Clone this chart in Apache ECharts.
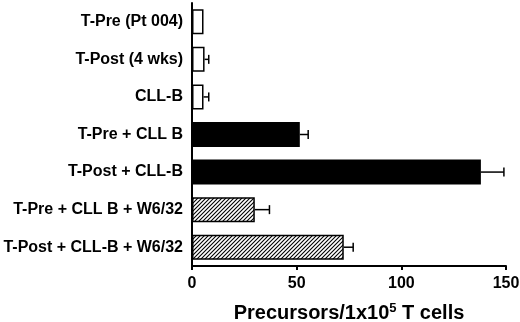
<!DOCTYPE html>
<html>
<head>
<meta charset="utf-8">
<script src="https://cdn.jsdelivr.net/npm/echarts@6/dist/echarts.min.js"></script>
<style>
html, body { margin: 0; padding: 0; background: #fff; }
#chart { width: 520px; height: 322px; }
</style>
</head>
<body>
<div id="chart"></div>
<script>
// data
var categories = [
	"T-Pre (Pt 004)",
	"T-Post (4 wks)",
	"CLL-B",
	"T-Pre + CLL B",
	"T-Post + CLL-B",
	"T-Pre + CLL B + W6/32",
	"T-Post + CLL-B + W6/32"
]
var values = [5.5, 6, 5.5, 51.5, 138, 30, 72.5]
var errors = [0, 2, 2.5, 4, 11, 7, 4.5]
var fills = ["open", "open", "open", "solid", "solid", "hatch", "hatch"]
var xTicks = [0, 50, 100, 150]

var FONT = "Liberation Sans, Arial, sans-serif"

// diagonal hatch tile
function hatchPattern(){
	var c = document.createElement("canvas")
	c.width = 4
	c.height = 4
	var ctx = c.getContext("2d")
	ctx.fillStyle = "#fff"
	ctx.fillRect(0, 0, 4, 4)
	ctx.strokeStyle = "#000"
	ctx.lineWidth = 1.1
	ctx.beginPath()
	ctx.moveTo(-1, 5); ctx.lineTo(5, -1)
	ctx.moveTo(-1, 1); ctx.lineTo(1, -1)
	ctx.moveTo(3, 5); ctx.lineTo(5, 3)
	ctx.stroke()
	return { image: c, repeat: "repeat" }
}
var hatch = hatchPattern()

var fillColor = { open: "#fff", solid: "#000", hatch: hatch }

var barData = values.map(function(v, i){
	return {
		value: v,
		itemStyle: { color: fillColor[fills[i]], borderColor: "#000", borderWidth: 1.5 }
	}
})

var errData = values.map(function(v, i){ return [v, i, v + errors[i]] })

var myChart = echarts.init(document.getElementById("chart"))
myChart.setOption({
	animation: false,
	grid: { left: 192, right: 14, top: 3, bottom: 56, outerBoundsMode: "none", containLabel: false },
	xAxis: {
		type: "value",
		min: xTicks[0],
		max: xTicks[xTicks.length - 1],
		interval: 50,
		axisLine: { show: true, lineStyle: { color: "#000", width: 2 } },
		axisTick: { show: true, length: 4, lineStyle: { color: "#000", width: 2 } },
		splitLine: { show: false },
		axisLabel: {
			color: "#000", fontSize: 16, fontWeight: "bold",
			fontFamily: FONT, margin: 10
		},
		name: "{a|Precursors/1x10}{s|5}{a| T cells}",
		nameLocation: "middle",
		nameGap: 36,
		nameTextStyle: {
			rich: {
				a: { fontSize: 20, fontWeight: "bold", color: "#000", fontFamily: FONT, verticalAlign: "bottom" },
				s: { fontSize: 13, fontWeight: "bold", color: "#000", fontFamily: FONT, verticalAlign: "top", padding: [0, 0, 8, 0] }
			}
		}
	},
	yAxis: {
		type: "category",
		data: categories,
		inverse: true,
		axisLine: { show: true, lineStyle: { color: "#000", width: 2 } },
		axisTick: { show: false },
		axisLabel: {
			color: "#000", fontSize: 16, fontWeight: "bold",
			fontFamily: FONT, margin: 9
		}
	},
	series: [
		{
			name: "precursors",
			type: "bar",
			data: barData,
			barWidth: 25
		},
		{
			name: "error",
			type: "custom",
			data: errData,
			encode: { x: [0, 2], y: 1 },
			z: 3,
			renderItem: function(params, api){
				var start = api.coord([api.value(0), api.value(1)])
				var end = api.coord([api.value(2), api.value(1)])
				if(end[0] - start[0] < 0.5) return null
				var h = 4.5
				return {
					type: "group",
					children: [
						{ type: "line", shape: { x1: start[0], y1: start[1], x2: end[0], y2: end[1] }, style: { stroke: "#000", lineWidth: 1.5 } },
						{ type: "line", shape: { x1: end[0], y1: end[1] - h, x2: end[0], y2: end[1] + h }, style: { stroke: "#000", lineWidth: 1.5 } }
					]
				}
			}
		}
	]
})
</script>
</body>
</html>
